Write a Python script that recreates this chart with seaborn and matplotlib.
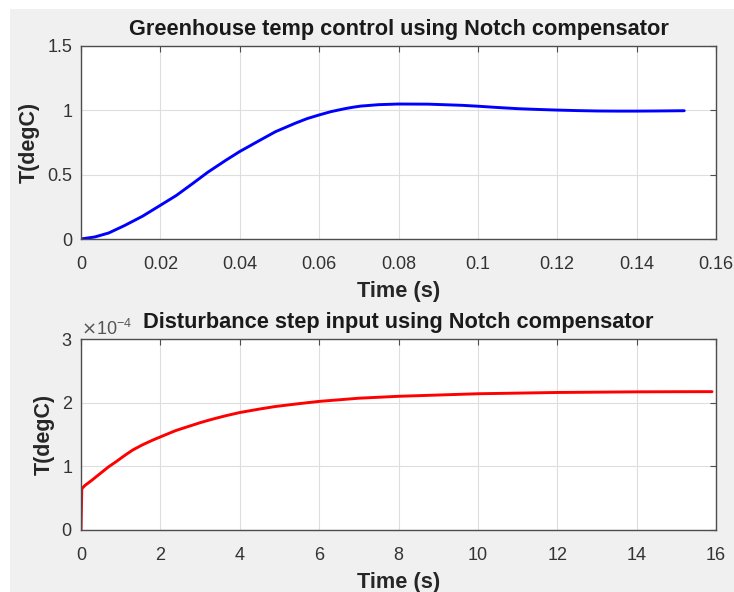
import numpy as np
import pandas as pd
import matplotlib
matplotlib.use("Agg")
import matplotlib.pyplot as plt
import matplotlib.patches as mpatches
from matplotlib.ticker import ScalarFormatter
import seaborn as sns

# ---- data ----
t_top = [0.000, 0.0035, 0.007, 0.011, 0.0155, 0.020, 0.024, 0.028, 0.032, 0.0365,
         0.040, 0.045, 0.049, 0.054, 0.057, 0.060, 0.063, 0.0665, 0.0685, 0.0705,
         0.075, 0.080, 0.0875, 0.096, 0.100, 0.105, 0.110, 0.115, 0.120, 0.125,
         0.130, 0.135, 0.140, 0.145, 0.152]
y_top = [0.000, 0.016, 0.047, 0.105, 0.177, 0.262, 0.338, 0.428, 0.520, 0.612,
         0.680, 0.766, 0.834, 0.900, 0.936, 0.964, 0.990, 1.013, 1.024, 1.033,
         1.044, 1.049, 1.048, 1.039, 1.032, 1.022, 1.013, 1.007, 1.002, 0.998,
         0.995, 0.994, 0.994, 0.995, 0.997]

t_bot = [0.0, 0.02, 0.1, 0.27, 0.45, 0.69, 0.9, 1.11, 1.3, 1.54, 1.8, 2.03, 2.38,
         2.6, 2.8, 3.0, 3.22, 3.4, 3.65, 4.0, 4.5, 4.9, 5.5, 6.0, 6.5, 7.0, 7.5,
         8.0, 9.0, 10.0, 11.0, 12.0, 13.0, 14.0, 15.0, 15.9]
y_bot = [0.0, 0.65e-4, 0.70e-4, 0.78e-4, 0.87e-4, 0.99e-4, 1.08e-4, 1.175e-4,
         1.255e-4, 1.335e-4, 1.41e-4, 1.47e-4, 1.56e-4, 1.605e-4, 1.645e-4,
         1.685e-4, 1.725e-4, 1.755e-4, 1.795e-4, 1.845e-4, 1.90e-4, 1.94e-4,
         1.985e-4, 2.02e-4, 2.045e-4, 2.07e-4, 2.085e-4, 2.10e-4, 2.12e-4,
         2.14e-4, 2.15e-4, 2.16e-4, 2.165e-4, 2.17e-4, 2.172e-4, 2.173e-4]

title_top = "Greenhouse temp control using Notch compensator"
title_bot = "Disturbance step input using Notch compensator"
xlabel = "Time (s)"
ylabel = "T(degC)"
xticks_top = [0, 0.02, 0.04, 0.06, 0.08, 0.1, 0.12, 0.14, 0.16]
xticklabels_top = ["0", "0.02", "0.04", "0.06", "0.08", "0.1", "0.12", "0.14", "0.16"]
yticks_top = [0, 0.5, 1, 1.5]
yticklabels_top = ["0", "0.5", "1", "1.5"]
xticks_bot = [0, 2, 4, 6, 8, 10, 12, 14, 16]
yticks_bot = [0, 1e-4, 2e-4, 3e-4]

sns.set_style("white")
plt.rcParams['font.family'] = ['Liberation Sans', 'DejaVu Sans']

W, H = 734, 592
fig = plt.figure(figsize=(W / 100, H / 100), dpi=100, facecolor="white")
bg = mpatches.Rectangle((10 / W, 0), 1 - 10 / W, 1 - 9 / H,
                        transform=fig.transFigure, facecolor="#f0f0f0",
                        edgecolor="none", zorder=-10)
fig.patches.append(bg)

def fx(px):
    return px / W

def fy(py):
    return 1 - py / H

ax1 = fig.add_axes([fx(81), fy(239), fx(716) - fx(81), fy(46) - fy(239)])
ax2 = fig.add_axes([fx(81), fy(530), fx(716) - fx(81), fy(339) - fy(530)])

df_top = pd.DataFrame({"t": t_top, "y": y_top})
df_bot = pd.DataFrame({"t": t_bot, "y": y_bot})
sns.lineplot(data=df_top, x="t", y="y", ax=ax1, color=(0, 0, 1), lw=2.1,
             sort=False, estimator=None)
sns.lineplot(data=df_bot, x="t", y="y", ax=ax2, color=(1, 0, 0), lw=2.1,
             sort=False, estimator=None)

tick_color = "#333333"
label_color = "#262626"
for ax, ylp in ((ax1, 6), (ax2, 5)):
    ax.set_facecolor("white")
    ax.grid(True, color="#dedede", lw=0.8)
    ax.set_axisbelow(True)
    for s in ax.spines.values():
        s.set_color("#4d4d4d")
        s.set_linewidth(1.0)
        s.set_visible(True)
    ax.tick_params(direction="in", length=4, width=0.8, color="#4d4d4d",
                   top=True, right=True, labelsize=13, labelcolor=tick_color)
    ax.tick_params(axis="x", pad=12)
    ax.tick_params(axis="y", pad=6)
    ax.set_xlabel(xlabel, fontsize=15.7, fontweight="bold", color=label_color, labelpad=6)
    ax.set_ylabel(ylabel, fontsize=15.5, fontweight="bold", color=label_color, labelpad=ylp)

ax1.set_xlim(0, 0.16)
ax1.set_ylim(0, 1.5)
ax1.set_xticks(xticks_top)
ax1.set_xticklabels(xticklabels_top)
ax1.set_yticks(yticks_top)
ax1.set_yticklabels(yticklabels_top)
ax1.set_title(title_top, fontsize=15.7, fontweight="bold", color="#1a1a1a", pad=8)

ax2.set_xlim(0, 16)
ax2.set_ylim(0, 3e-4)
ax2.set_xticks(xticks_bot)
ax2.set_yticks(yticks_bot)
fmt = ScalarFormatter(useMathText=True)
fmt.set_powerlimits((0, 0))
ax2.yaxis.set_major_formatter(fmt)
ax2.yaxis.get_offset_text().set_fontsize(13)
ax2.yaxis.get_offset_text().set_color("#555555")
ax2.set_title(title_bot, fontsize=15.7, fontweight="bold", color="#1a1a1a", pad=8)

fig.savefig("out.png", dpi=100, facecolor=fig.get_facecolor())
